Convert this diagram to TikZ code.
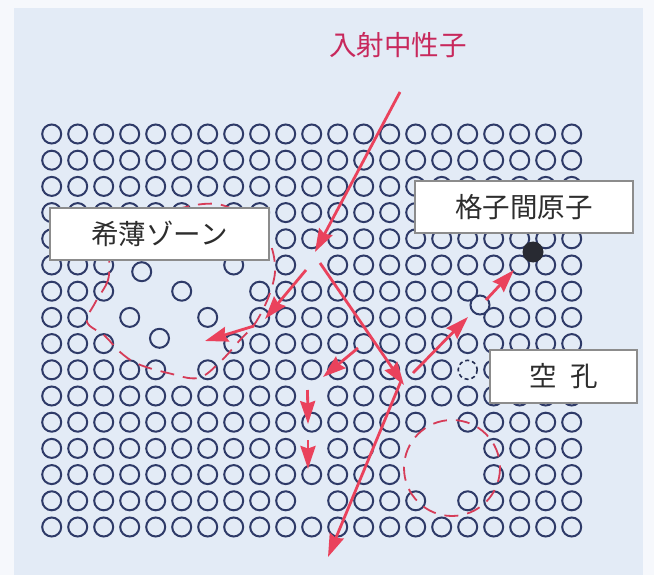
\documentclass[tikz,border=0pt]{standalone}
\usepackage{fontspec}
\newfontfamily\jp{Noto Sans CJK JP}
\usetikzlibrary{arrows.meta}
\definecolor{paper}{RGB}{246,248,252}
\definecolor{panel}{RGB}{227,235,246}
\definecolor{atomline}{RGB}{46,58,104}
\definecolor{hitred}{RGB}{234,66,92}
\definecolor{zonered}{RGB}{214,60,88}
\definecolor{titlered}{RGB}{200,40,92}
\definecolor{labelgray}{RGB}{45,45,45}
\definecolor{boxline}{RGB}{140,140,140}
\definecolor{intatom}{RGB}{40,42,50}

% one row of lattice atoms: #1 = row index, #2 = list of occupied columns
\newcommand\atomrow[2]{%
  \foreach \c in {#2} {\draw[atom] ({51.7+26*\c},{134+26.2*#1}) circle (9.5);}}

\begin{document}
\begin{tikzpicture}[x=1pt,y=-1pt,
  atom/.style={draw=atomline, line width=2pt},
  flight/.style={draw=hitred, line width=2.8pt,
    -{Stealth[length=23pt,width=15pt,inset=2.5pt]}},
  zoneline/.style={draw=zonered, line width=1.8pt, dash pattern=on 14pt off 9pt},
  labelbox/.style={draw=boxline, line width=1.2pt, fill=white, inner sep=0pt,
    font=\jp\fontsize{27.5}{32}\selectfont, text=labelgray},
]
\useasboundingbox (0,0) rectangle (654,575);
\fill[paper] (0,0) rectangle (654,575);
\fill[panel] (14,8) rectangle (643,575);

% lattice
\atomrow{0}{0,...,20}
\atomrow{1}{0,...,20}
\atomrow{2}{0,...,20}
\atomrow{3}{0,...,5,7,8,...,20}
\atomrow{4}{0,1,2,3,9,10,...,20}
\atomrow{5}{0,1,2,7,9,11,12,...,20}
\atomrow{6}{0,1,2,5,8,9,...,16,18,19,20}
\atomrow{7}{0,1,3,6,8,9,...,15,17,18,19,20}
\atomrow{8}{0,1,2,7,8,...,20}
\atomrow{9}{0,1,2,3,4,6,7,...,15,17,18,19,20}
\atomrow{10}{0,...,9,11,12,...,20}
\atomrow{11}{0,...,14,16,17,...,20}
\atomrow{12}{0,...,9,11,12,13,17,18,19,20}
\atomrow{13}{0,...,13,17,18,19,20}
\atomrow{14}{0,...,9,11,12,13,14,16,17,...,20}
\atomrow{15}{0,...,20}

% displaced atoms
\draw[atom] (141.7,271.7) circle (9.5);
\draw[atom] (159.5,338.3) circle (9.5);
\draw[atom] (480,305) circle (9.5);

% interstitial atom and vacancy
\fill[intatom] (533,252) circle (10.5);
\draw[atomline!80!black, line width=1.6pt, dash pattern=on 4pt off 3pt] (467.7,369.8) circle (9.5);

% depleted zones
\draw[zoneline] plot[smooth cycle, tension=0.6] coordinates {
  (110,255) (108,280) (95,303) (87,322) (105,336) (120,352) (138,364)
  (168,373) (198,378) (220,362) (240,340) (256,322) (270,293) (275,265)
  (265,235) (232,209) (203,204) (160,215) (120,235)};
\draw[zoneline] (452,468) circle (48);

% collision cascade
\coordinate (n0) at (400,92);
\coordinate (n1) at (315,252);
\coordinate (p0) at (320,263);
\coordinate (p1) at (404,385);
\coordinate (q0) at (306,270);
\coordinate (q1) at (265,319);
\coordinate (s0) at (254,326);
\coordinate (s1) at (205,341);
\coordinate (t0) at (358,348);
\coordinate (t1) at (323,377);
\coordinate (u0) at (413,373);
\coordinate (u1) at (468,317);
\coordinate (v0) at (486,300);
\coordinate (v1) at (514,270);
\coordinate (w0) at (307.5,390);
\coordinate (w1) at (308,424);
\coordinate (x0) at (308,440);
\coordinate (x1) at (308,469);
\coordinate (y0) at (401,381);
\coordinate (y1) at (328,557);

\draw[flight] (n0) -- (n1);
\draw[flight] (p0) -- (p1);
\draw[flight] (q0) -- (q1);
\draw[flight] (s0) -- (s1);
\draw[flight] (t0) -- (t1);
\draw[flight] (u0) -- (u1);
\draw[flight] (v0) -- (v1);
\draw[flight] (w0) -- (w1);
\draw[flight] (x0) -- (x1);
\draw[flight] (y0) -- (y1);

% labels
\node[font=\jp\fontsize{27.5}{32}\selectfont, text=titlered] (title) at (398,45) {入射中性子};
\node[labelbox, minimum width=219pt, minimum height=52pt] (zonelabel) at (159.5,234) {希薄ゾーン};
\node[labelbox, minimum width=218pt, minimum height=52pt] (intlabel) at (524,207) {格子間原子};
\node[labelbox, minimum width=147pt, minimum height=53pt] (vaclabel) at (563.5,376.5) {空\hspace{0.5em}孔};
\end{tikzpicture}
\end{document}
